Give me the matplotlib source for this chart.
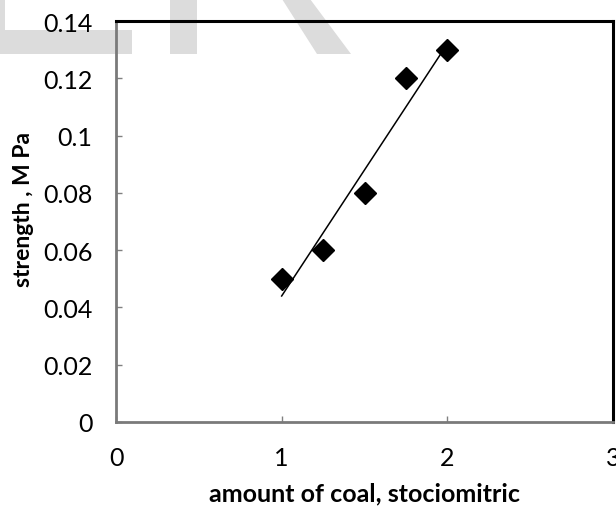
import numpy as np
import matplotlib
matplotlib.use('Agg')
import matplotlib.pyplot as plt
from matplotlib.patches import Polygon

plt.rcParams['font.family'] = ['Lato', 'DejaVu Sans']

# data
coal = [1.0, 1.25, 1.5, 1.75, 2.0]
strength = [0.05, 0.06, 0.08, 0.12, 0.13]

x_ticks = [0, 1, 2, 3]
y_ticks = [0, 0.02, 0.04, 0.06, 0.08, 0.10, 0.12, 0.14]
y_tick_labels = ['0', '0.02', '0.04', '0.06', '0.08', '0.1', '0.12', '0.14']

W, H = 616, 510


def px(x, y):
    # pixel (top-left origin) -> figure fraction
    return (x / W, 1 - y / H)


fig = plt.figure(figsize=(W / 100, H / 100), dpi=100)
fig.patch.set_facecolor('white')

# light grey watermark pieces at the top left
wm = '#dcdcdc'
shapes = [
    [(0, 0), (5, 0), (5, 31), (132, 31), (132, 55), (0, 55)],
    [(170, 0), (197, 0), (197, 55), (170, 55)],
    [(282, 0), (310, 0), (351, 55), (317, 55)],
]
for s in shapes:
    fig.patches.append(Polygon([px(*p) for p in s], closed=True, transform=fig.transFigure,
                               facecolor=wm, edgecolor='none', zorder=-5))

ax = fig.add_axes([116 / W, 1 - 423 / H, 497 / W, 401 / H])
ax.patch.set_alpha(0)

# linear trend line
k, b = np.polyfit(coal, strength, 1)
xs = np.array([min(coal), max(coal)])
ax.plot(xs, k * xs + b, color='black', lw=1.1, zorder=2)
ax.plot(coal, strength, linestyle='none', marker='D', ms=11, color='black', zorder=3)

ax.set_xlim(0, 3)
ax.set_ylim(0, 0.14)
ax.set_xticks(x_ticks)
ax.set_xticklabels([str(t) for t in x_ticks])
ax.set_yticks(y_ticks)
ax.set_yticklabels(y_tick_labels)

ax.tick_params(direction='in', length=4, width=1, color='#808080', labelsize=18, pad=17)
for lab in ax.get_xticklabels() + ax.get_yticklabels():
    lab.set_clip_on(False)

for side in ['left', 'bottom']:
    ax.spines[side].set_color('#7a7a7a')
    ax.spines[side].set_linewidth(2.0)
for side in ['top', 'right']:
    ax.spines[side].set_color('black')
    ax.spines[side].set_linewidth(2.2)

fig.text(*px(364.5, 494), 'amount of coal, stociomitric', ha='center', va='center',
         fontsize=18, fontweight='bold')
fig.text(*px(24, 210), 'strength , M Pa', ha='center', va='center', rotation=90,
         fontsize=16.5, fontweight='bold')

fig.savefig('out.png', dpi=100)
